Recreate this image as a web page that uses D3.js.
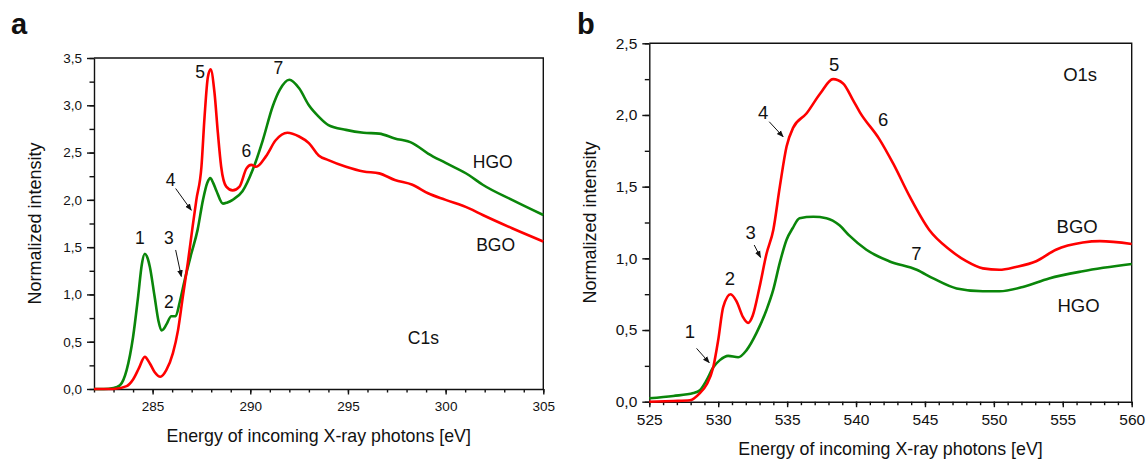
<!DOCTYPE html>
<html>
<head>
<meta charset="utf-8">
<script src="https://cdn.jsdelivr.net/npm/d3@7"></script>
<style>
  body { margin: 0; background: #fff; }
  text { font-family: "Liberation Sans", Arial, sans-serif; fill: #111; }
</style>
</head>
<body>
<div id="chart"></div>
<script>
// C1s panel (a): energy [eV], normalized intensity
const c1sHgoE = [282.0, 282.5, 283.0, 283.33, 283.67, 284.0, 284.26, 284.45, 284.6, 284.75, 284.86, 285.1, 285.3, 285.45, 285.55, 285.7, 285.96, 286.18, 286.39, 286.64, 286.98, 287.3, 287.58, 287.8, 287.95, 288.1, 288.26, 288.6, 288.8, 289.1, 289.6, 290.13, 290.64, 291.15, 291.5, 292.0, 292.5, 293.0, 293.5, 294.0, 294.9, 295.8, 296.6, 297.4, 298.3, 299.1, 300.0, 301.2, 301.9, 303.4, 305.0];
const c1sHgoI = [0.0, 0.0, 0.01, 0.04, 0.2, 0.55, 0.98, 1.32, 1.43, 1.38, 1.29, 0.98, 0.72, 0.62, 0.63, 0.68, 0.77, 0.77, 0.92, 1.15, 1.43, 1.68, 2.0, 2.18, 2.23, 2.18, 2.10, 1.96, 1.97, 2.0, 2.09, 2.32, 2.63, 2.99, 3.16, 3.27, 3.18, 3.0, 2.88, 2.79, 2.74, 2.71, 2.70, 2.65, 2.60, 2.49, 2.39, 2.26, 2.16, 2.0, 1.84];
const c1sBgoE = [282.0, 283.0, 283.67, 284.0, 284.3, 284.6, 284.86, 285.1, 285.4, 285.7, 286.04, 286.3, 286.55, 286.8, 287.05, 287.24, 287.5, 287.66, 287.83, 287.97, 288.17, 288.34, 288.51, 288.77, 289.1, 289.45, 289.8, 290.05, 290.3, 290.8, 291.3, 291.9, 292.5, 293.0, 293.5, 294.0, 294.9, 295.8, 296.6, 297.4, 298.3, 299.1, 300.0, 301.2, 301.9, 303.4, 305.0];
const c1sBgoI = [0.0, 0.0, 0.03, 0.1, 0.22, 0.34, 0.27, 0.18, 0.13, 0.2, 0.38, 0.62, 0.98, 1.33, 1.72, 2.0, 2.35, 2.88, 3.3, 3.38, 3.13, 2.71, 2.35, 2.14, 2.10, 2.14, 2.33, 2.37, 2.35, 2.46, 2.63, 2.71, 2.67, 2.60, 2.47, 2.42, 2.35, 2.30, 2.28, 2.21, 2.16, 2.07, 2.0, 1.91, 1.84, 1.70, 1.56];

// O1s panel (b)
const o1sHgoE = [525.0, 526.74, 528.2, 528.67, 529.16, 529.64, 530.12, 530.72, 531.45, 532.06, 532.78, 533.5, 533.99, 534.47, 534.96, 535.4, 535.9, 536.9, 537.85, 538.8, 539.5, 540.75, 542.4, 544.4, 545.6, 547.3, 549.2, 550.4, 552.1, 554.0, 556.45, 560.0];
const o1sHgoI = [0.024, 0.04, 0.06, 0.08, 0.15, 0.24, 0.29, 0.32, 0.31, 0.36, 0.48, 0.64, 0.78, 0.97, 1.13, 1.21, 1.28, 1.29, 1.28, 1.23, 1.16, 1.06, 0.98, 0.92, 0.86, 0.79, 0.77, 0.77, 0.80, 0.86, 0.91, 0.96];
const o1sBgoE = [525.0, 526.74, 527.95, 528.67, 529.16, 529.64, 530.0, 530.36, 530.9, 531.33, 531.8, 532.17, 532.5, 533.0, 533.5, 534.0, 534.47, 534.96, 535.43, 536.4, 537.4, 538.33, 539.06, 539.8, 540.27, 541.7, 542.7, 543.9, 545.3, 546.8, 548.0, 549.2, 550.4, 551.6, 553.07, 554.5, 556.45, 557.7, 560.0];
const o1sBgoI = [0.0, 0.005, 0.01, 0.06, 0.12, 0.24, 0.43, 0.66, 0.75, 0.70, 0.59, 0.55, 0.60, 0.80, 1.03, 1.20, 1.50, 1.78, 1.91, 2.01, 2.15, 2.25, 2.22, 2.10, 2.02, 1.83, 1.66, 1.43, 1.20, 1.06, 0.98, 0.93, 0.92, 0.94, 0.98, 1.06, 1.11, 1.12, 1.10];

// annotations in data units: [text, energy, intensity]
const c1sLabels = [["1", 284.35, 1.60], ["2", 285.83, 0.92], ["3", 285.83, 1.60], ["4", 285.92, 2.21], ["5", 287.43, 3.35], ["6", 289.8, 2.52], ["7", 291.44, 3.39], ["HGO", 302.41, 2.40], ["BGO", 302.56, 1.52], ["C1s", 298.86, 0.54]];
const c1sArrows = [[286.18, 1.47, 286.47, 1.19], [286.18, 2.12, 286.98, 1.89]];
const o1sLabels = [["1", 527.95, 0.49], ["2", 530.85, 0.86], ["3", 532.35, 1.18], ["4", 533.26, 2.02], ["5", 538.41, 2.35], ["6", 541.96, 1.97], ["7", 544.38, 1.035], ["O1s", 556.26, 2.28], ["BGO", 556.04, 1.22], ["HGO", 556.14, 0.674]];
const o1sArrows = [[528.43, 0.372, 529.35, 0.272], [532.61, 1.093, 533.07, 1.007], [533.7, 1.953, 534.71, 1.848]];

const width = 1147, height = 460;
const red = "#ff0000", green = "#0a860a";
const comma = d3.formatLocale({ decimal: ",", thousands: ".", grouping: [3], currency: ["", ""] }).format(".1f");

const svg = d3.select("#chart").append("svg")
  .attr("width", width).attr("height", height);

svg.append("defs").append("marker")
  .attr("id", "head")
  .attr("viewBox", "0 0 10 10")
  .attr("refX", 9).attr("refY", 5)
  .attr("markerWidth", 7).attr("markerHeight", 7)
  .attr("markerUnits", "userSpaceOnUse")
  .attr("orient", "auto")
  .append("path").attr("d", "M0,1 L10,5 L0,9 Z").attr("fill", "#111");

function panel(p) {
  const x = d3.scaleLinear().domain(p.xDomain).range([p.left, p.right]);
  const y = d3.scaleLinear().domain(p.yDomain).range([p.bottom, p.top]);
  const g = svg.append("g");

  // minor ticks
  g.append("g").attr("transform", `translate(0,${p.bottom})`)
    .call(d3.axisBottom(x).tickValues(d3.range(p.xDomain[0], p.xDomain[1] + 0.01, 1)).tickSize(3.5).tickFormat(""))
    .call(a => a.select(".domain").remove());
  g.append("g").attr("transform", `translate(${p.left},0)`)
    .call(d3.axisLeft(y).tickValues(d3.range(p.yDomain[0], p.yDomain[1] + 0.01, 0.25)).tickSize(4.5).tickFormat(""))
    .call(a => a.select(".domain").remove());

  // major ticks
  g.append("g").attr("transform", `translate(0,${p.bottom})`)
    .call(d3.axisBottom(x).tickValues(p.xTicks).tickSize(5.5).tickPadding(7).tickSizeOuter(0).tickFormat(d3.format("d")))
    .call(a => a.selectAll("text").style("font-size", p.tickFont + "px"));
  g.append("g").attr("transform", `translate(${p.left},0)`)
    .call(d3.axisLeft(y).tickValues(d3.range(p.yDomain[0], p.yDomain[1] + 0.01, 0.5)).tickSize(7).tickPadding(5).tickSizeOuter(0).tickFormat(comma))
    .call(a => a.selectAll("text").style("font-size", p.tickFont + "px"));
  g.selectAll(".domain, .tick line").attr("stroke", "#111").attr("stroke-width", 1.4);

  // frame top/right
  g.append("path")
    .attr("d", `M${p.left},${p.top}H${p.right}V${p.bottom}`)
    .attr("fill", "none").attr("stroke", "#111").attr("stroke-width", 1.4);

  const line = d3.line().curve(d3.curveMonotoneX).x(d => x(d[0])).y(d => y(d[1]));
  p.series.forEach(s => {
    g.append("path")
      .datum(d3.zip(s.e, s.v))
      .attr("fill", "none")
      .attr("stroke", s.color)
      .attr("stroke-width", 2.6)
      .attr("stroke-linejoin", "round")
      .attr("d", line);
  });

  g.selectAll(".ann").data(p.labels).join("text")
    .attr("x", d => x(d[1])).attr("y", d => y(d[2]))
    .attr("text-anchor", "middle").attr("dominant-baseline", "central")
    .style("font-size", p.annFont + "px")
    .text(d => d[0]);

  g.selectAll(".arr").data(p.arrows).join("line")
    .attr("x1", d => x(d[0])).attr("y1", d => y(d[1]))
    .attr("x2", d => x(d[2])).attr("y2", d => y(d[3]))
    .attr("stroke", "#111").attr("stroke-width", 1)
    .attr("marker-end", "url(#head)");

  g.append("text")
    .attr("x", (p.left + p.right) / 2).attr("y", p.bottom + 53)
    .attr("text-anchor", "middle").style("font-size", "17.8px")
    .text("Energy of incoming X-ray photons [eV]");
  g.append("text")
    .attr("transform", `translate(${p.left - 53},${(p.top + p.bottom) / 2}) rotate(-90)`)
    .attr("text-anchor", "middle").style("font-size", "18px")
    .text("Normalized intensity");

  g.append("text")
    .attr("x", p.tagX).attr("y", p.tagY)
    .style("font-size", "29px").attr("font-weight", "bold")
    .text(p.tag);
}

panel({
  xDomain: [282, 305], yDomain: [0, 3.5], xTicks: [285, 290, 295, 300, 305],
  left: 94, right: 543.3, top: 58, bottom: 389, tickFont: 13.5, annFont: 17.5,
  series: [{ e: c1sHgoE, v: c1sHgoI, color: green }, { e: c1sBgoE, v: c1sBgoI, color: red }],
  labels: c1sLabels, arrows: c1sArrows, tag: "a", tagX: 11, tagY: 34
});

panel({
  xDomain: [525, 560], yDomain: [0, 2.5], xTicks: [525, 530, 535, 540, 545, 550, 555, 560],
  left: 649.3, right: 1131.7, top: 43.3, bottom: 401.7, tickFont: 15.5, annFont: 18.5,
  series: [{ e: o1sHgoE, v: o1sHgoI, color: green }, { e: o1sBgoE, v: o1sBgoI, color: red }],
  labels: o1sLabels, arrows: o1sArrows, tag: "b", tagX: 577, tagY: 34
});
</script>
</body>
</html>
